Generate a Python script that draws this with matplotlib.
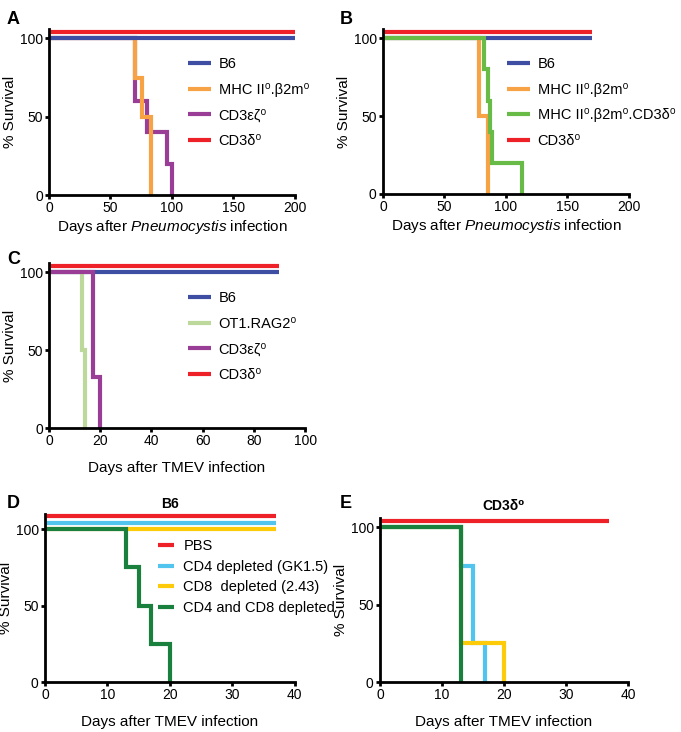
import matplotlib
matplotlib.use("Agg")
import matplotlib.pyplot as plt

plt.rcParams['font.family'] = ['Liberation Sans', 'DejaVu Sans']
plt.rcParams['mathtext.fontset'] = 'custom'
plt.rcParams['mathtext.rm'] = 'Liberation Sans'
plt.rcParams['mathtext.it'] = 'Liberation Sans:italic'

# ---- data (days, % survival) ----
# A: Pneumocystis
a_b6_t, a_b6_s = [0, 200], [100, 100]
a_mhc_t, a_mhc_s = [0, 70, 76, 83], [100, 75, 50, 0]
a_cd3ez_t, a_cd3ez_s = [0, 70, 80, 96, 100], [100, 60, 40, 20, 0]
a_cd3d_t, a_cd3d_s = [0, 200], [100, 100]

# B: Pneumocystis
b_b6_t, b_b6_s = [0, 170], [100, 100]
b_mhc_t, b_mhc_s = [0, 78, 85], [100, 50, 0]
b_mhccd3_t, b_mhccd3_s = [0, 82, 85, 87, 89, 113], [100, 80, 60, 40, 20, 0]
b_cd3d_t, b_cd3d_s = [0, 170], [100, 100]

# C: TMEV
c_b6_t, c_b6_s = [0, 90], [100, 100]
c_ot1_t, c_ot1_s = [0, 13, 14], [100, 50, 0]
c_cd3ez_t, c_cd3ez_s = [0, 17, 20], [100, 33, 0]
c_cd3d_t, c_cd3d_s = [0, 90], [100, 100]

# D: B6 depletion
d_pbs_t, d_pbs_s = [0, 37], [100, 100]
d_cd4_t, d_cd4_s = [0, 37], [100, 100]
d_cd8_t, d_cd8_s = [0, 37], [100, 100]
d_both_t, d_both_s = [0, 13, 15, 17, 20], [100, 75, 50, 25, 0]

# E: CD3d0 depletion
e_pbs_t, e_pbs_s = [0, 37], [100, 100]
e_cd4_t, e_cd4_s = [0, 13, 15, 17], [100, 75, 25, 0]
e_cd8_t, e_cd8_s = [0, 13, 20], [100, 25, 0]
e_both_t, e_both_s = [0, 13], [100, 0]

BLUE = '#3d4ea3'
ORANGE = '#f7a245'
PURPLE = '#9a3d97'
RED = '#ee2129'
GREEN = '#67bb46'
LGREEN = '#bdd89b'
CYAN = '#52c5ee'
YELLOW = '#fecb0a'
DGREEN = '#19803d'

LW = 3.0

fig = plt.figure(figsize=(6.81, 7.32), dpi=100)


def step(ax, t, s, color, label=None, offset=0):
    ax.step(t, [v + offset for v in s], where='post', color=color, lw=LW,
            label=label, clip_on=False, solid_capstyle='butt', solid_joinstyle='miter')


def style(ax, xlim, xticks, ytop, xlabel):
    ax.set_xlim(*xlim)
    ax.set_ylim(0, ytop)
    ax.set_xticks(xticks)
    ax.set_yticks([0, 50, 100])
    for sp in ['top', 'right']:
        ax.spines[sp].set_visible(False)
    for sp in ['left', 'bottom']:
        ax.spines[sp].set_linewidth(2.0)
    ax.tick_params(width=2.0, length=3, labelsize=10, pad=1.5)
    ax.set_ylabel('% Survival', fontsize=11, labelpad=2)
    ax.set_xlabel(xlabel, fontsize=11, labelpad=2)


def legend(ax, x, y, spacing, hl, pad):
    ax.legend(loc='upper left', bbox_to_anchor=(x, y), frameon=False,
              fontsize=10.5, labelspacing=spacing, handlelength=hl,
              handletextpad=pad, borderpad=0, borderaxespad=0)


pneumo = r'Days after $\it{Pneumocystis}$ infection'
tmev = 'Days after TMEV infection'

# A
ax = fig.add_axes([0.072, 0.7336, 0.361, 0.2268])
step(ax, a_cd3ez_t, a_cd3ez_s, PURPLE, 'CD3εζ⁰')
step(ax, a_mhc_t, a_mhc_s, ORANGE, 'MHC II⁰.β2m⁰')
step(ax, a_b6_t, a_b6_s, BLUE, 'B6')
step(ax, a_cd3d_t, a_cd3d_s, RED, 'CD3δ⁰', offset=4)
style(ax, (0, 200), [0, 50, 100, 150, 200], 106, pneumo)
h, l = ax.get_legend_handles_labels()
order = [2, 1, 0, 3]
ax.legend([h[i] for i in order], [l[i] for i in order], loc='upper left',
          bbox_to_anchor=(0.565, 0.83), frameon=False, fontsize=10.5,
          labelspacing=0.8, handlelength=1.6, handletextpad=0.5,
          borderpad=0, borderaxespad=0)

# B
ax = fig.add_axes([0.5624, 0.735, 0.3612, 0.2254])
step(ax, b_b6_t, b_b6_s, BLUE, 'B6')
step(ax, b_mhc_t, b_mhc_s, ORANGE, 'MHC II⁰.β2m⁰')
step(ax, b_mhccd3_t, b_mhccd3_s, GREEN, 'MHC II⁰.β2m⁰.CD3δ⁰')
step(ax, b_cd3d_t, b_cd3d_s, RED, 'CD3δ⁰', offset=4)
style(ax, (0, 200), [0, 50, 100, 150, 200], 106, pneumo)
legend(ax, 0.504, 0.83, 0.8, 1.6, 0.5)

# C
ax = fig.add_axes([0.072, 0.4153, 0.376, 0.2254])
step(ax, c_b6_t, c_b6_s, BLUE, 'B6')
step(ax, c_ot1_t, c_ot1_s, LGREEN, 'OT1.RAG2⁰')
step(ax, c_cd3ez_t, c_cd3ez_s, PURPLE, 'CD3εζ⁰')
step(ax, c_cd3d_t, c_cd3d_s, RED, 'CD3δ⁰', offset=4)
style(ax, (0, 100), [0, 20, 40, 60, 80, 100], 106, tmev)
ax.xaxis.labelpad = 9
legend(ax, 0.543, 0.83, 0.8, 1.6, 0.5)

# D
ax = fig.add_axes([0.066, 0.0683, 0.367, 0.2295])
step(ax, d_pbs_t, d_pbs_s, RED, 'PBS', offset=8.5)
step(ax, d_cd4_t, d_cd4_s, CYAN, 'CD4 depleted (GK1.5)', offset=4.3)
step(ax, d_cd8_t, d_cd8_s, YELLOW, 'CD8  depleted (2.43)')
step(ax, d_both_t, d_both_s, DGREEN, 'CD4 and CD8 depleted')
style(ax, (0, 40), [0, 10, 20, 30, 40], 110, tmev)
ax.xaxis.labelpad = 9
ax.set_title('B6', fontsize=10, fontweight='bold', pad=4)
legend(ax, 0.452, 0.85, 0.45, 1.1, 0.65)

# E
ax = fig.add_axes([0.558, 0.0683, 0.364, 0.224])
step(ax, e_pbs_t, e_pbs_s, RED, offset=4)
step(ax, e_cd4_t, e_cd4_s, CYAN)
step(ax, e_cd8_t, e_cd8_s, YELLOW)
step(ax, e_both_t, e_both_s, DGREEN)
style(ax, (0, 40), [0, 10, 20, 30, 40], 106, tmev)
ax.xaxis.labelpad = 9
ax.set_title('CD3δ⁰', fontsize=10, fontweight='bold', pad=6)

# panel letters
for letter, x, y in [('A', 0.010, 0.985), ('B', 0.499, 0.985), ('C', 0.010, 0.657),
                     ('D', 0.010, 0.324), ('E', 0.499, 0.324)]:
    fig.text(x, y, letter, fontsize=13, fontweight='bold', va='top', ha='left')

fig.savefig('out.png', dpi=100)
